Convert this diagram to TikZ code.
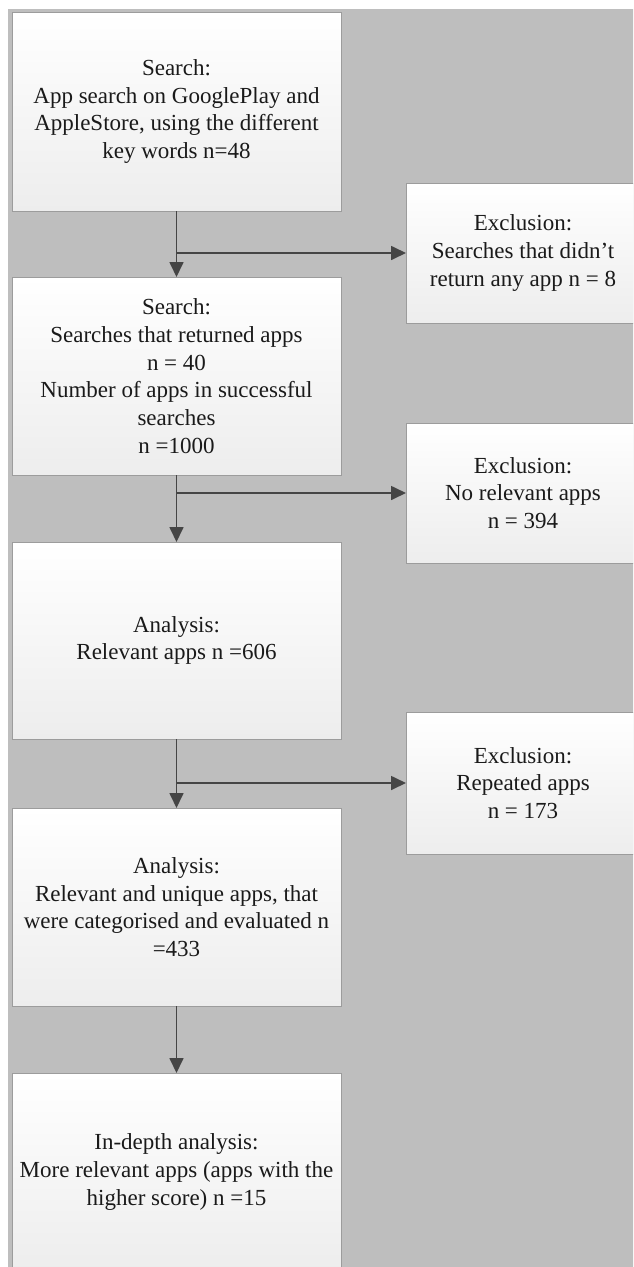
\documentclass[tikz,border=0pt]{standalone}
\usepackage{fontspec}
\setmainfont{Liberation Serif}
\usetikzlibrary{arrows.meta}
\definecolor{bg}{HTML}{BEBEBE}
\definecolor{boxline}{HTML}{9C9C9C}
\definecolor{boxbot}{HTML}{EDEDED}
\definecolor{arrowc}{HTML}{454545}
\definecolor{txt}{HTML}{1A1A1A}
\begin{document}
\begin{tikzpicture}[x=1pt,y=-1pt,
  box/.style={draw=boxline, line width=1pt, top color=white, bottom color=boxbot,
    inner sep=0pt, outer sep=0pt, align=center, text=txt,
    font=\fontsize{23}{27.7}\selectfont, minimum width=329pt},
  excbox/.style={box, minimum width=234pt, minimum height=140pt},
  arr/.style={draw=arrowc, line width=1.7pt, -{Triangle[length=15pt,width=14pt]}}]
\useasboundingbox (0,0) rectangle (633,1267);
\clip (0,0) rectangle (633,1267);
\fill[white] (0,0) rectangle (633,1267);
\fill[bg] (8,9) rectangle (645,1280);

\node[box, minimum height=199pt] (b1) at (176.5,111.5)
  {Search:\\App search on GooglePlay and\\AppleStore, using the different\\key words n=48};
\node[excbox] (e1) at (523,253)
  {Exclusion:\\Searches that didn’t\\return any app n = 8};
\node[box, minimum height=198pt] (b2) at (176.5,376)
  {Search:\\Searches that returned apps\\n = 40\\Number of apps in successful\\searches\\n =1000};
\node[excbox] (e2) at (523,493)
  {Exclusion:\\No relevant apps\\n = 394};
\node[box, minimum height=197pt] (b3) at (176.5,640.5)
  {Analysis:\\Relevant apps n =606};
\node[excbox, minimum height=142pt] (e3) at (523,783)
  {Exclusion:\\Repeated apps\\n = 173};
\node[box, minimum height=198pt] (b4) at (176.5,907)
  {Analysis:\\Relevant and unique apps, that\\were categorised and evaluated n\\=433};
\node[box, minimum height=198pt] (b5) at (176.5,1172)
  {In-depth analysis:\\More relevant apps (apps with the\\higher score) n =15};

\draw[arr] (b1.south) -- (b2.north);
\draw[arr] (b1.south |- e1.west) -- (e1.west);
\draw[arr] (b2.south) -- (b3.north);
\draw[arr] (b2.south |- e2.west) -- (e2.west);
\draw[arr] (b3.south) -- (b4.north);
\draw[arr] (b3.south |- e3.west) -- (e3.west);
\draw[arr] (b4.south) -- (b5.north);
\end{tikzpicture}
\end{document}
